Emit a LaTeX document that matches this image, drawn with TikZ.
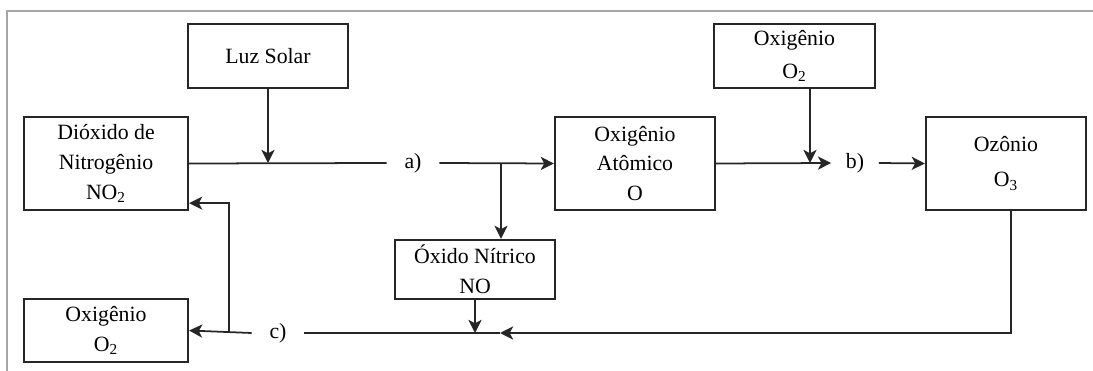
\documentclass[tikz,border=0pt]{standalone}
\usepackage{fontspec}
\setmainfont{Liberation Serif}
\usetikzlibrary{arrows.meta, positioning}
\tikzset{caixa/.style={draw=black!85, line width=1.3pt, rectangle, align=center, inner sep=0pt, font=\fontsize{12.4}{17}\selectfont},
etapa/.style={inner sep=0pt, minimum height=0.5cm, font=\fontsize{12.4}{17}\selectfont},
seta/.style={-{Stealth[length=7.5pt,width=7.5pt,inset=2pt]}, line width=1pt}}
\begin{document}
\begin{tikzpicture}[x=0.02cm, y=-0.02cm, line width=1pt, draw=black!85]
                 \useasboundingbox (0,0) rectangle (1093,371);
                 \draw[gray!70, line width=0.6pt] (1093,11) -- (7,11) -- (7,371);

                 % caixas
                 \node[caixa, minimum width=3.2cm, minimum height=1.28cm] (luz) at (268,56) {Luz Solar};
                 \node[caixa, minimum width=3.28cm, minimum height=1.86cm] (dioxido) at (106,163.5) {Dióxido de\\Nitrogênio\\NO\textsubscript{2}};
                 \node[caixa, minimum width=3.2cm, minimum height=1.86cm] (atomico) at (635,163.5) {Oxigênio\\Atômico\\O};
                 \node[caixa, minimum width=3.22cm, minimum height=1.28cm] (oxigenio) at (794.5,56) {Oxigênio\\[2pt]O\textsubscript{2}};
                 \node[caixa, minimum width=3.2cm, minimum height=1.86cm] (ozonio) at (1006,163.5) {Ozônio\\[3pt]O\textsubscript{3}};
                 \node[caixa, minimum width=3.2cm, minimum height=1.18cm] (nitrico) at (475,269.5) {Óxido Nítrico\\NO};
                 \node[caixa, minimum width=3.28cm, minimum height=1.26cm] (oxigenio2) at (106,330.5) {Oxigênio\\O\textsubscript{2}};

                 % etapas
                 \node[etapa, minimum width=1.02cm] (a) at (413,163) {a)};
                 \node[etapa, minimum width=0.92cm] (b) at (855,163) {b)};
                 \node[etapa, minimum width=1.02cm] (c) at (278,333) {c)};

                 \coordinate (sol) at (268,163);
                 \coordinate (ramo) at (501,163);
                 \coordinate (o2) at (810,163);
                 \coordinate (volta) at (229,333);
                 \coordinate (juncao) at (500,333);
                 \coordinate (ozbase) at (1011,210);

                 \draw (dioxido.east) -- (a.west);
                 \draw[seta] (luz.south) -- (sol);
                 \draw[seta] (a.east) -- (atomico.west);
                 \draw[seta] (ramo) -- (ramo |- nitrico.north);

                 \draw[seta] (atomico.east) -- (b.west);
                 \draw[seta] (oxigenio.south -| o2) -- (o2);
                 \draw[seta] (b.east) -- (ozonio.west);

                 \draw[seta] (ozbase) |- (juncao);
                 \draw (juncao) -- (c.east);
                 \draw[seta] (nitrico.south) -- (nitrico.south |- c.east);
                 \draw[seta] (c.west) -- (oxigenio2.east);
                 \draw[seta] (volta) |- ([yshift=0.16cm]dioxido.south east);
                 \end{tikzpicture}
\end{document}
